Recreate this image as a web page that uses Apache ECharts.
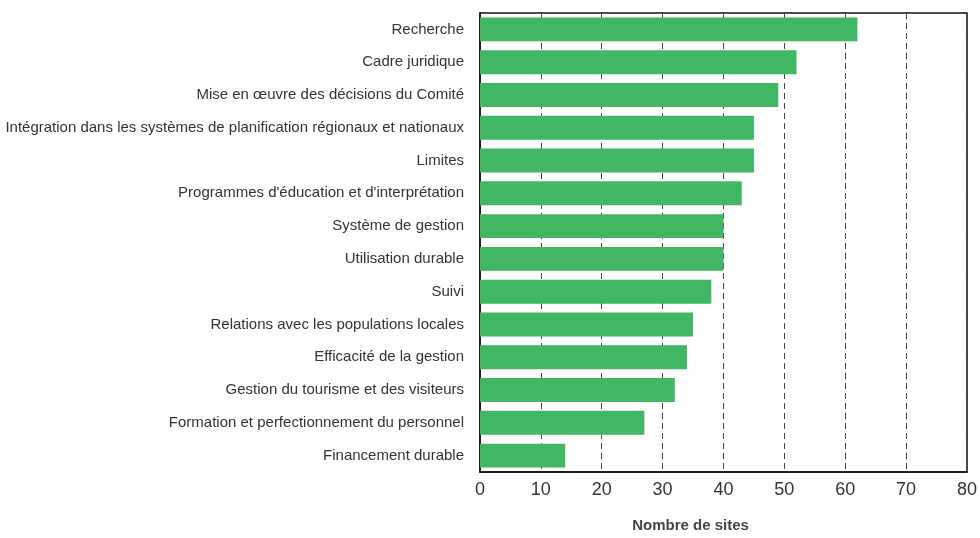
<!DOCTYPE html>
<html><head><meta charset="utf-8">
<script src="https://cdn.jsdelivr.net/npm/echarts@6/dist/echarts.min.js"></script>
<style>html,body{margin:0;padding:0;background:#fff}#c{width:980px;height:538px}</style>
</head><body><div id="c"></div>
<script>
const categories = [
  "Recherche",
  "Cadre juridique",
  "Mise en œuvre des décisions du Comité",
  "Intégration dans les systèmes de planification régionaux et nationaux",
  "Limites",
  "Programmes d'éducation et d'interprétation",
  "Système de gestion",
  "Utilisation durable",
  "Suivi",
  "Relations avec les populations locales",
  "Efficacité de la gestion",
  "Gestion du tourisme et des visiteurs",
  "Formation et perfectionnement du personnel",
  "Financement durable"
];
const values = [62, 52, 49, 45, 45, 43, 40, 40, 38, 35, 34, 32, 27, 14];
const xTicks = [0, 10, 20, 30, 40, 50, 60, 70, 80];
const xAxisName = "Nombre de sites";

const fam = 'Liberation Sans';
const chart = echarts.init(document.getElementById('c'), null, {renderer: 'canvas'});
chart.setOption({
  animation: false,
  grid: {left: 480, right: 10, top: 13, bottom: 63, containLabel: false,
         show: true, borderColor: '#111', borderWidth: 1.5, backgroundColor: 'transparent'},
  xAxis: {
    type: 'value', min: xTicks[0], max: xTicks[xTicks.length-1], interval: 10,
    name: xAxisName, nameLocation: 'middle', nameGap: 46,
    nameTextStyle: {fontFamily: fam, fontSize: 15, fontWeight: 'bold', color: '#444', padding: [0, 66, 0, 0]},
    axisLine: {show: true, lineStyle: {color: '#111', width: 1.5}},
    axisTick: {show: false},
    axisLabel: {fontFamily: fam, fontSize: 18, color: '#333', margin: 9},
    splitLine: {show: true, lineStyle: {color: '#444', type: [6, 4], width: 1}}
  },
  yAxis: {
    type: 'category', data: categories, inverse: true,
    axisLine: {show: true, lineStyle: {color: '#111', width: 1.5}},
    axisTick: {show: false},
    axisLabel: {fontFamily: fam, fontSize: 15, color: '#333', margin: 16, padding: [4, 0, 0, 0]}
  },
  series: [{
    type: 'bar', data: values, barCategoryGap: '27%',
    itemStyle: {color: '#41b763'}
  }]
});
</script></body></html>
